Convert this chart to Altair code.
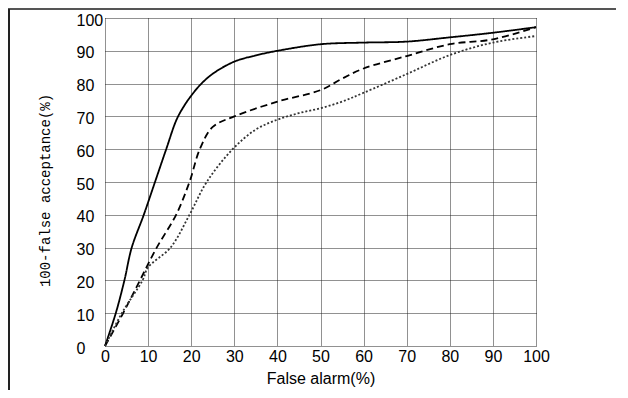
import altair as alt
import pandas as pd

# Curve data (False alarm %, 100-false acceptance %)
solid_x = [0, 2.5, 4.5, 6.2, 9.0, 11.6, 14.2, 16.6, 18.5, 20, 22, 25, 30, 35, 40, 50, 60, 70, 80, 90, 100]
solid_y = [0, 10, 20, 30, 40, 50, 60, 69, 73.5, 76.3, 79.5, 83, 86.7, 88.6, 90, 92, 92.5, 92.8, 94.1, 95.5, 97.2]

dashed_x = [0, 4.2, 8.1, 12, 16.5, 19.6, 22, 25, 30, 40, 50, 55, 60, 70, 80, 90, 100]
dashed_y = [0, 10, 20, 30, 40, 50, 60, 66.8, 70, 74.5, 78, 81.5, 84.6, 88.4, 92, 93.5, 97.2]

dotted_x = [0, 3.9, 8.7, 10, 15.2, 19.6, 23.6, 29.6, 35, 40, 45, 50, 55, 60, 70, 80, 90, 100]
dotted_y = [0, 10, 20, 24, 30, 40, 50, 60, 66, 69, 71, 72.5, 74.5, 77.2, 82.9, 88.7, 92.5, 94.5]

ticks = [0, 10, 20, 30, 40, 50, 60, 70, 80, 90, 100]

df = pd.concat([
    pd.DataFrame({"x": solid_x, "y": solid_y, "s": "solid"}),
    pd.DataFrame({"x": dashed_x, "y": dashed_y, "s": "dashed"}),
    pd.DataFrame({"x": dotted_x, "y": dotted_y, "s": "dotted"}),
], ignore_index=True)

series = ["solid", "dashed", "dotted"]

xaxis = alt.Axis(values=ticks, title="False alarm(%)", grid=True, domain=False, ticks=False,
                 labelPadding=2, labelFontSize=16, labelFont="Liberation Sans", labelColor="black",
                 titleFont="Liberation Sans", titleFontSize=16, titleFontWeight="normal",
                 titleColor="black", titlePadding=6, labelBaseline="top", labelFlush=False)
yaxis = alt.Axis(values=ticks, title="100-false acceptance(%)", grid=True, domain=False, ticks=False,
                 labelAlign="left", labelPadding=29, labelFontSize=16, labelFont="Liberation Sans",
                 labelColor="black", labelOffset=2, titleFont="Liberation Mono", titleFontSize=14,
                 titleFontWeight="normal", titleColor="black", titlePadding=24, titleY=172,
                 labelFlush=False)

lines = alt.Chart(df).mark_line(interpolate="catmull-rom").encode(
    x=alt.X("x:Q", scale=alt.Scale(domain=[0, 100], nice=False, zero=False), axis=xaxis),
    y=alt.Y("y:Q", scale=alt.Scale(domain=[0, 100], nice=False, zero=False), axis=yaxis),
    detail="s:N",
    strokeDash=alt.StrokeDash("s:N", scale=alt.Scale(domain=series, range=[[1, 0], [7, 4], [2, 2]]), legend=None),
    strokeWidth=alt.StrokeWidth("s:N", scale=alt.Scale(domain=series, range=[1.8, 1.8, 1.1]), legend=None),
    color=alt.Color("s:N", scale=alt.Scale(domain=series, range=["#000000", "#000000", "#333333"]), legend=None),
)

# outer frame (top and left border of the picture)
top_border = alt.Chart(pd.DataFrame({"k": [0]})).mark_rule(color="#555555", strokeWidth=2, clip=False).encode(
    x=alt.value(-97), x2=alt.value(530), y=alt.value(-9))
left_border = alt.Chart(pd.DataFrame({"k": [0]})).mark_rule(color="#222222", strokeWidth=2, clip=False).encode(
    x=alt.value(-96), y=alt.value(-9), y2=alt.value(380))

chart = alt.layer(lines, top_border, left_border).properties(
    width=431, height=328,
    autosize=alt.AutoSizeParams(type="none"),
    padding={"left": 97, "top": 10, "right": 80, "bottom": 44},
    background="white",
).configure_view(stroke=None).configure_axis(
    gridColor="#222222", gridDash=[1, 1], gridWidth=1, gridOpacity=1
)

chart.save("out.html", embed_options={"renderer": "svg", "actions": False})
